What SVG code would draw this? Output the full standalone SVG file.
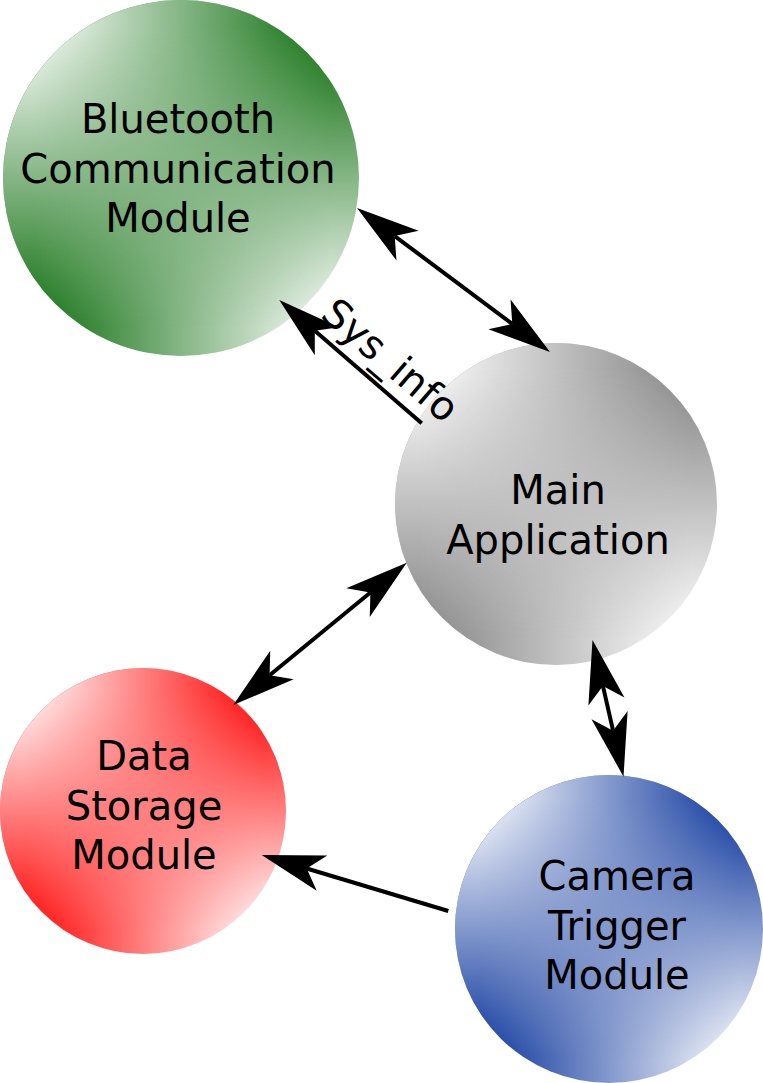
<svg xmlns="http://www.w3.org/2000/svg" width="763" height="1083" viewBox="0 0 763 1083">
  <style>
    .lbl { font-family: "DejaVu Sans", "Liberation Sans", sans-serif; font-size: 40px; fill: #000; text-anchor: middle; }
    .conn { fill: none; stroke: #000; stroke-width: 4; stroke-linecap: butt; }
    .tag { font-family: "DejaVu Sans", "Liberation Sans", sans-serif; font-size: 40px; fill: #000; }
  </style>
  <defs>
    <linearGradient id="vmaskGrad" x1="0" y1="0.08" x2="0" y2="0.92">
      <stop offset="0" stop-color="#fff"/>
      <stop offset="1" stop-color="#000"/>
    </linearGradient>
    <mask id="vmask" maskContentUnits="objectBoundingBox">
      <rect x="0" y="0" width="1" height="1" fill="url(#vmaskGrad)"/>
    </mask>
    <linearGradient id="greenBot" x1="0.08" y1="0" x2="0.92" y2="0">
      <stop offset="0" stop-color="#0b6c0b"/><stop offset="1" stop-color="#fff"/>
    </linearGradient>
    <linearGradient id="greenTop" x1="0.08" y1="0" x2="0.92" y2="0">
      <stop offset="0" stop-color="#fff"/><stop offset="1" stop-color="#0b6c0b"/>
    </linearGradient>
    <linearGradient id="grayBot" x1="0.08" y1="0" x2="0.92" y2="0">
      <stop offset="0" stop-color="#838383"/><stop offset="1" stop-color="#fff"/>
    </linearGradient>
    <linearGradient id="grayTop" x1="0.08" y1="0" x2="0.92" y2="0">
      <stop offset="0" stop-color="#fff"/><stop offset="1" stop-color="#838383"/>
    </linearGradient>
    <linearGradient id="redBot" x1="0.08" y1="0" x2="0.92" y2="0">
      <stop offset="0" stop-color="#ff0000"/><stop offset="1" stop-color="#fff"/>
    </linearGradient>
    <linearGradient id="redTop" x1="0.08" y1="0" x2="0.92" y2="0">
      <stop offset="0" stop-color="#fff"/><stop offset="1" stop-color="#ff0000"/>
    </linearGradient>
    <linearGradient id="blueBot" x1="0.08" y1="0" x2="0.92" y2="0">
      <stop offset="0" stop-color="#08329a"/><stop offset="1" stop-color="#fff"/>
    </linearGradient>
    <linearGradient id="blueTop" x1="0.08" y1="0" x2="0.92" y2="0">
      <stop offset="0" stop-color="#fff"/><stop offset="1" stop-color="#08329a"/>
    </linearGradient>
    <marker id="arrow" markerUnits="userSpaceOnUse" orient="auto-start-reverse" refX="0" refY="0" markerWidth="10" markerHeight="10" overflow="visible">
      <path d="M47,0 L-16,-18.5 L0,0 L-16,18.5 Z" fill="#000"/>
    </marker>
  </defs>

  <g id="bluetooth">
    <circle cx="181" cy="178" r="178" fill="url(#greenBot)"/>
    <circle cx="181" cy="178" r="178" fill="url(#greenTop)" mask="url(#vmask)"/>
    <text class="lbl" x="178" y="133">Bluetooth</text>
    <text class="lbl" x="178" y="183">Communication</text>
    <text class="lbl" x="178" y="232">Module</text>
  </g>

  <g id="main">
    <circle cx="556" cy="504" r="161" fill="url(#grayBot)"/>
    <circle cx="556" cy="504" r="161" fill="url(#grayTop)" mask="url(#vmask)"/>
    <text class="lbl" x="558" y="504">Main</text>
    <text class="lbl" x="558" y="554">Application</text>
  </g>

  <g id="datastorage">
    <circle cx="143" cy="811" r="143" fill="url(#redBot)"/>
    <circle cx="143" cy="811" r="143" fill="url(#redTop)" mask="url(#vmask)"/>
    <text class="lbl" x="144" y="770">Data</text>
    <text class="lbl" x="144" y="820">Storage</text>
    <text class="lbl" x="144" y="869">Module</text>
  </g>

  <g id="camera">
    <circle cx="609" cy="929" r="154" fill="url(#blueBot)"/>
    <circle cx="609" cy="929" r="154" fill="url(#blueTop)" mask="url(#vmask)"/>
    <text class="lbl" x="617" y="890">Camera</text>
    <text class="lbl" x="617" y="940">Trigger</text>
    <text class="lbl" x="617" y="989">Module</text>
  </g>

  <g id="connectors">
    <line class="conn" x1="394.7" y1="236.1" x2="512.3" y2="323.9" marker-start="url(#arrow)" marker-end="url(#arrow)"/>
    <line class="conn" x1="421.7" y1="423.3" x2="314.8" y2="330.7" marker-end="url(#arrow)"/>
    <text class="tag" transform="translate(319,317) rotate(40.7)">Sys_info</text>
    <line class="conn" x1="370.4" y1="592.5" x2="269.6" y2="675.2" marker-start="url(#arrow)" marker-end="url(#arrow)"/>
    <line class="conn" x1="602.9" y1="685.9" x2="613.1" y2="730.8" marker-start="url(#arrow)" marker-end="url(#arrow)"/>
    <line class="conn" x1="448.3" y1="911" x2="306.7" y2="868.5" marker-end="url(#arrow)"/>
  </g>
</svg>
